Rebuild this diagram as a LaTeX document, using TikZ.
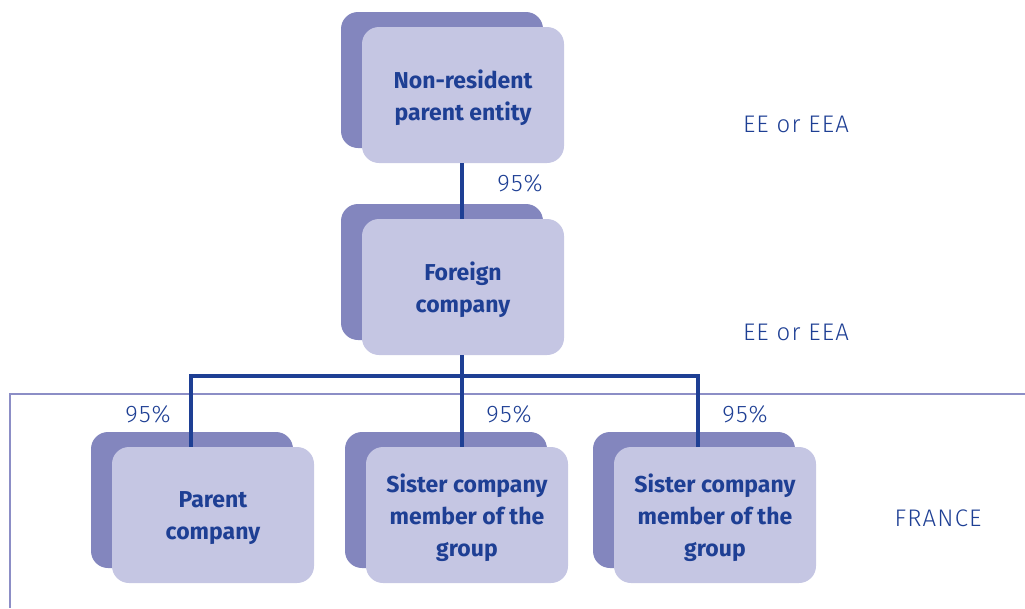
\documentclass[tikz,border=0pt]{standalone}
\usepackage{fontspec}
\setmainfont{Fira Sans}
\newfontfamily\tagfont[LetterSpace=5]{Fira Sans Light}
\definecolor{backfill}{HTML}{8386BE}
\definecolor{frontfill}{HTML}{C5C6E3}
\definecolor{ink}{HTML}{1E3F94}
\definecolor{framec}{HTML}{8C8EC6}
\begin{document}
\begin{tikzpicture}[x=1pt,y=-1pt,
  boxbase/.style={rounded corners=17pt, minimum width=202pt, minimum height=136pt, inner sep=0pt},
  backbox/.style={boxbase, fill=backfill},
  frontbox/.style={boxbase, fill=frontfill, text=ink, align=center,
    font=\fontsize{23}{32}\selectfont\bfseries},
  link/.style={draw=ink, line width=3.2pt},
  frameline/.style={draw=framec, line width=2.8pt},
  tag/.style={text=ink, font=\tagfont\fontsize{24}{28}\selectfont, inner sep=0pt}]
\useasboundingbox (0,0) rectangle (1025,608);

% French border
\draw[frameline] (1025,394) -- (10,394) -- (10,608);

% shadow plates
\node[backbox] (nrpB) at (442,80) {};
\node[backbox] (fcB)  at (442,272) {};
\node[backbox] (pcB)  at (192,500) {};
\node[backbox] (scaB) at (446,500) {};
\node[backbox] (scbB) at (694,500) {};

% connector columns
\coordinate (pcx) at (191,0);
\coordinate (scax) at (462,0);
\coordinate (scbx) at (698,0);
\coordinate (bus) at (0,376);

% entities (text set a little below the plate centre)
\node[frontbox] (nrp) at (463,95) {};
\node[frontbox] (fc)  at (463,287) {};
\node[frontbox] (pc)  at (213,515) {};
\node[frontbox] (sca) at (467,515) {};
\node[frontbox] (scb) at (715,515) {};
\node[frontbox, fill=none, yshift=-3pt] (nrpT) at (nrp) {Non-resident\\parent entity};
\node[frontbox, fill=none, yshift=-3pt] (fcT)  at (fc)  {Foreign\\company};
\node[frontbox, fill=none, yshift=-3pt] (pcT)  at (pc)  {Parent\\company};
\node[frontbox, fill=none, yshift=-3pt] (scaT) at (sca) {Sister company\\member of the\\group};
\node[frontbox, fill=none, yshift=-3pt] (scbT) at (scb) {Sister company\\member of the\\group};

% ownership links
\draw[link] (nrp.south -| scax) -- (fc.north -| scax);
\draw[link] (fc.south -| scax) -- (bus -| scax);
\draw[link] ([xshift=-1.6pt]bus -| pcx) -- ([xshift=1.6pt]bus -| scbx);
\draw[link] (bus -| pcx) -- (pc.north -| pcx);
\draw[link] (bus -| scax) -- (sca.north -| scax);
\draw[link] (bus -| scbx) -- (scb.north -| scbx);

% shareholdings and zones
\node[tag] (p1) at (520,183) {95\%};
\node[tag] (p2) at (148,414) {95\%};
\node[tag] (p3) at (509,414) {95\%};
\node[tag] (p4) at (745,414) {95\%};
\node[tag] (z1) at (796,124) {EE or EEA};
\node[tag] (z2) at (796,332) {EE or EEA};
\node[tag] (z3) at (938,518) {FRANCE};
\end{tikzpicture}
\end{document}
